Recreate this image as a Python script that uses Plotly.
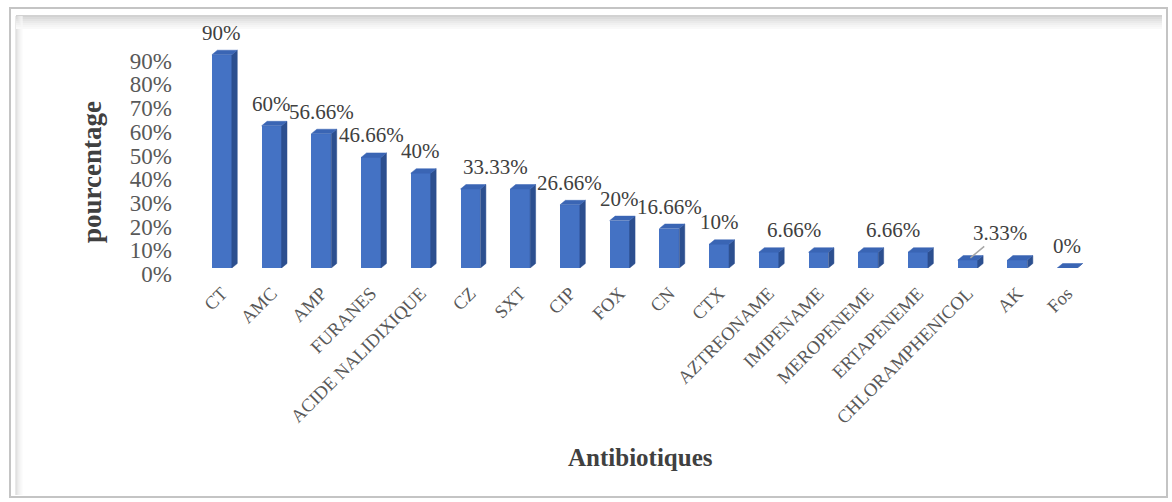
import plotly.graph_objects as go

# ---- data ----------------------------------------------------------------
antibiotiques = [
    "CT", "AMC", "AMP", "FURANES", "ACIDE NALIDIXIQUE", "CZ", "SXT", "CIP",
    "FOX", "CN", "CTX", "AZTREONAME", "IMIPENAME", "MEROPENEME",
    "ERTAPENEME", "CHLORAMPHENICOL", "AK", "Fos",
]
pourcentages = [90, 60, 56.66, 46.66, 40, 33.33, 33.33, 26.66, 20, 16.66,
                10, 6.66, 6.66, 6.66, 6.66, 3.33, 3.33, 0]

y_tick_values = [0, 10, 20, 30, 40, 50, 60, 70, 80, 90]
y_tick_labels = ["0%", "10%", "20%", "30%", "40%", "50%", "60%", "70%", "80%", "90%"]

# bars carrying a value label, and horizontal shift of that label (category units)
labelled_bars = [0, 1, 2, 3, 4, 5, 7, 8, 9, 10, 11, 13, 17]
label_shift = [0, 0, 0, 0, 0, 0.5, 0, 0, 0, 0, 0.5, 0.5, 0]
leader_bar = 15  # label drawn with a leader line

# ---- geometry / style ----------------------------------------------------
FONT = "Liberation Serif, Times New Roman, serif"
FRONT = "#4472C4"
SIDE = "#2C4F8F"
TOP = "#3A65B4"
BAR_W = 0.40      # front face width (category units)
DEPTH_X = 0.11    # 3-D depth, horizontal (category units)
DEPTH_Y = 1.9     # 3-D depth, vertical (percent units)

L, R, T, B = 197, 80, 31, 234
W, H = 1172, 502
PW, PH = W - L - R, H - T - B

idx = list(range(len(antibiotiques)))

fig = go.Figure()

# front faces
fig.add_trace(go.Bar(
    x=idx, y=pourcentages, width=BAR_W,
    marker=dict(color=FRONT, line=dict(width=0)),
    hoverinfo="skip", showlegend=False,
))

# side faces and top faces as filled polygons
side_x, side_y, top_x, top_y = [], [], [], []
for i, v in zip(idx, pourcentages):
    xr = i + BAR_W / 2
    xl = i - BAR_W / 2
    side_x += [xr, xr + DEPTH_X, xr + DEPTH_X, xr, xr, None]
    side_y += [0, DEPTH_Y, v + DEPTH_Y, v, 0, None]
    top_x += [xl, xr, xr + DEPTH_X, xl + DEPTH_X, xl, None]
    top_y += [v, v, v + DEPTH_Y, v + DEPTH_Y, v, None]

fig.add_trace(go.Scatter(
    x=side_x, y=side_y, mode="lines", fill="toself", fillcolor=SIDE,
    line=dict(color=SIDE, width=0.5), hoverinfo="skip", showlegend=False,
))
fig.add_trace(go.Scatter(
    x=top_x, y=top_y, mode="lines", fill="toself", fillcolor=TOP,
    line=dict(color=TOP, width=0.5), hoverinfo="skip", showlegend=False,
))


def pct_text(v):
    return f"{v:g}%"


annotations = []
for b, s in zip(labelled_bars, label_shift):
    v = pourcentages[b]
    annotations.append(dict(
        x=b + s, y=v, xref="x", yref="y", text=pct_text(v), showarrow=False,
        xanchor="center", yanchor="middle", yshift=22,
        font=dict(family=FONT, size=21, color="#404040"),
    ))

# label with leader line
v = pourcentages[leader_bar]
annotations.append(dict(
    x=leader_bar + DEPTH_X / 2, y=v + DEPTH_Y / 2, xref="x", yref="y",
    text=pct_text(v), showarrow=True, arrowhead=0, arrowwidth=1.5,
    arrowcolor="#A6A6A6", ax=30, ay=-25,
    font=dict(family=FONT, size=21, color="#404040"),
))


def px_x(p):
    return (p - L) / PW


def px_y(p):
    return (H - B - p) / PH


# axis titles
annotations.append(dict(
    x=px_x(640), y=px_y(457), xref="paper", yref="paper",
    xanchor="center", yanchor="middle",
    text="<b>Antibiotiques</b>", showarrow=False,
    font=dict(family=FONT, size=25, color="#404040"),
))
annotations.append(dict(
    x=px_x(92), y=px_y(172), xref="paper", yref="paper",
    xanchor="center", yanchor="middle",
    text="<b>pourcentage</b>", showarrow=False, textangle=-90,
    font=dict(family=FONT, size=27, color="#404040"),
))

# chart frame with soft inner shadow
shapes = [dict(
    type="rect", xref="paper", yref="paper", layer="below",
    x0=px_x(10), x1=px_x(1167), y0=px_y(8), y1=px_y(497),
    line=dict(color="#C4C4C4", width=2), fillcolor="rgba(0,0,0,0)",
)]
shadow = ["#D2D2D2", "#DBDBDB", "#E3E3E3", "#EAEAEA", "#F0F0F0", "#F5F5F5", "#F9F9F9"]
for k, c in enumerate(shadow):
    shapes.append(dict(type="line", xref="paper", yref="paper", layer="below",
                       x0=px_x(16 + k), x1=px_x(16 + k), y0=px_y(16), y1=px_y(495),
                       line=dict(color=c, width=1)))
    shapes.append(dict(type="line", xref="paper", yref="paper", layer="below",
                       x0=px_x(16), x1=px_x(1162), y0=px_y(16 + 2 * k), y1=px_y(16 + 2 * k),
                       line=dict(color=c, width=2)))

fig.update_layout(
    width=W, height=H,
    margin=dict(l=L, r=R, t=T, b=B),
    paper_bgcolor="white", plot_bgcolor="white",
    bargap=0, showlegend=False,
    annotations=annotations, shapes=shapes,
    xaxis=dict(
        range=[-0.5, len(antibiotiques) - 0.5],
        tickvals=idx, ticktext=antibiotiques, tickangle=-45,
        tickfont=dict(family=FONT, size=18.5, color="#595959"),
        showgrid=False, zeroline=False, showline=False, ticks="",
        ticklabelstandoff=10,
    ),
    yaxis=dict(
        range=[0, 100],
        tickvals=y_tick_values, ticktext=y_tick_labels,
        tickfont=dict(family=FONT, size=23, color="#595959"),
        showgrid=False, zeroline=False, showline=False, ticks="",
        ticklabelstandoff=24, ticklabelshift=6,
    ),
)

fig.write_html("out.html")
